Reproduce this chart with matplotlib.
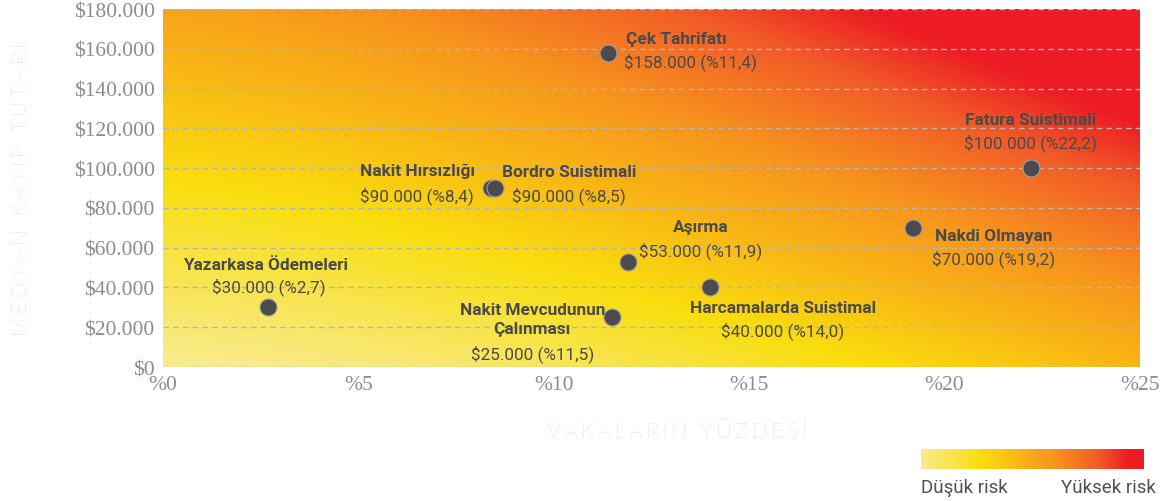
import numpy as np
import matplotlib
matplotlib.use("Agg")
import matplotlib.pyplot as plt
from matplotlib.colors import LinearSegmentedColormap

# data
names = ["Çek Tahrifatı", "Fatura Suistimali", "Nakit Hırsızlığı", "Bordro Suistimali",
         "Aşırma", "Nakdi Olmayan", "Yazarkasa Ödemeleri",
         "Nakit Mevcudunun\nÇalınması", "Harcamalarda Suistimal"]
pct = [11.4, 22.2, 8.4, 8.5, 11.9, 19.2, 2.7, 11.5, 14.0]
loss = [158000, 100000, 90000, 90000, 53000, 70000, 30000, 25000, 40000]

y_ticks = [0, 20000, 40000, 60000, 80000, 100000, 120000, 140000, 160000, 180000]
x_ticks = [0, 5, 10, 15, 20, 25]

# label offsets in pixels (name, value) relative to the point
name_off = [(68, 14), (0, 49), (-74, 18), (74, 17), (73, 35), (80, -8), (-3, 43), (-80, -2), (73, -20)]
value_off = [(82, -8), (0, 26), (-74, -7), (74, -7), (73, 12), (80, -30), (0, 21), (-80, -36), (73, -43)]

risk = LinearSegmentedColormap.from_list("risk", [
    (0.0, "#f8eb8e"), (0.27, "#f9de0e"), (0.45, "#f9b316"),
    (0.6, "#f7941d"), (0.8, "#f15a28"), (0.93, "#ed1c24"), (1.0, "#ed1c24")])


def tr_num(v):
    return "{:,}".format(v).replace(",", ".")


def tr_pct(v):
    return "{:.1f}".format(v).replace(".", ",")


fig = plt.figure(figsize=(11.65, 5.02), dpi=100)
ax = fig.add_axes([0.1399, 0.2669, 0.8386, 0.7131])

# background risk gradient (grows with both axes, faster toward the top right)
gx, gy = np.meshgrid(np.linspace(0, 1, 400), np.linspace(0, 1, 400))
t = np.clip(0.44 * gx ** 1.5 + 0.52 * gy + 0.2 * gx * gy, 0, 1)
ax.imshow(t, cmap=risk, vmin=0, vmax=1, origin="lower", aspect="auto",
          extent=[0, 25, 0, 180000], interpolation="bilinear")

ax.scatter(pct, loss, s=150, color="#4b4b4d", edgecolor="#a0a0a0", linewidth=0.8, zorder=4)

text_font = ["Liberation Sans Narrow", "Roboto", "DejaVu Sans"]
for i, n in enumerate(names):
    ax.annotate(n, (pct[i], loss[i]), xytext=name_off[i], textcoords="offset pixels",
                ha="center", va="center", fontsize=12.4, fontweight="bold",
                color="#4a4a4a", family=text_font, linespacing=1.3, zorder=5)
    ax.annotate("$%s (%%%s)" % (tr_num(loss[i]), tr_pct(pct[i])), (pct[i], loss[i]),
                xytext=value_off[i], textcoords="offset pixels",
                ha="center", va="center", fontsize=12.3, color="#4a4a4a",
                family=text_font, zorder=5)

ax.set_xlim(0, 25)
ax.set_ylim(0, 180000)
ax.set_xticks(x_ticks)
ax.set_xticklabels(["%%%d" % v for v in x_ticks])
ax.set_yticks(y_ticks)
ax.set_yticklabels(["$" + tr_num(v) for v in y_ticks])
ax.tick_params(length=0, labelsize=15.5, labelcolor="#8c8c8c", pad=6)
for lab in ax.get_xticklabels() + ax.get_yticklabels():
    lab.set_family("Liberation Serif")

ax.grid(axis="y", linestyle=(0, (4, 3)), color="#b5b5b5", linewidth=1)
for s in ax.spines.values():
    s.set_visible(False)

label_font = ["Lato", "DejaVu Sans"]
gap = "\u2009\u200a"
ax.set_ylabel(gap.join("MEDYAN KAYIP TUTARI"), fontsize=15, color="#bdbdbd",
              family=label_font, fontweight="light")
ax.yaxis.set_label_coords(-0.135, 0.5)
ax.set_xlabel(gap.join("VAKALARIN YÜZDESİ"), fontsize=15, color="#bdbdbd",
              family=label_font, fontweight="light")
ax.xaxis.set_label_coords(0.526, -0.15)

# colour legend
cax = fig.add_axes([0.7906, 0.0637, 0.1906, 0.0398])
cax.imshow(np.linspace(0, 1, 256)[None, :], cmap=risk, aspect="auto")
cax.set_axis_off()
fig.text(0.7906, 0.028, "Düşük risk", ha="left", va="center", fontsize=13.5,
         color="#505050", family=text_font)
fig.text(0.992, 0.028, "Yüksek risk", ha="right", va="center", fontsize=13.5,
         color="#505050", family=text_font)

fig.savefig("out.png", dpi=100)
